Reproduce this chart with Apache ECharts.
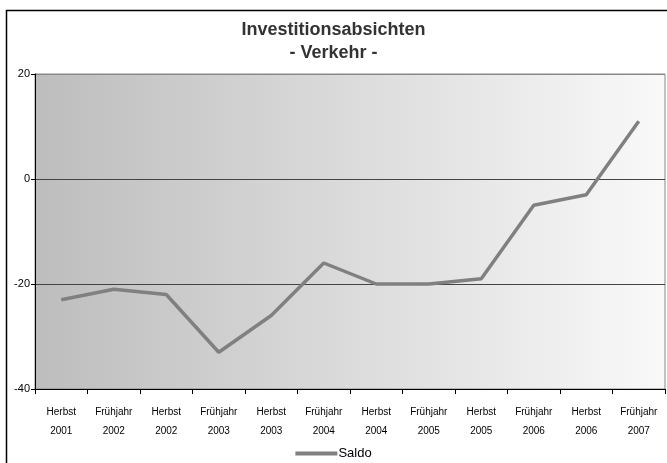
<!DOCTYPE html>
<html>
<head>
<meta charset="utf-8">
<script src="https://cdn.jsdelivr.net/npm/echarts@6/dist/echarts.min.js"></script>
<style>
  html, body { margin: 0; padding: 0; background: #fff; }
  #chart { width: 667px; height: 463px; }
</style>
</head>
<body>
<div id="chart"></div>
<script>
// Kategorien (Halbjahre)
var categories = [
  'Herbst\n2001', 'Frühjahr\n2002', 'Herbst\n2002', 'Frühjahr\n2003',
  'Herbst\n2003', 'Frühjahr\n2004', 'Herbst\n2004', 'Frühjahr\n2005',
  'Herbst\n2005', 'Frühjahr\n2006', 'Herbst\n2006', 'Frühjahr\n2007'
];
// Saldo-Werte
var saldo = [-23, -21, -22, -33, -26, -16, -20, -20, -19, -5, -3, 11];
// Achsenbereich
var yMin = -40, yMax = 20, yStep = 20;

var chart = echarts.init(document.getElementById('chart'));
chart.setOption({
  animation: false,
  title: {
    text: 'Investitionsabsichten\n- Verkehr -',
    left: 'center',
    top: 14,
    textStyle: {
      fontFamily: 'Liberation Sans',
      fontSize: 18,
      fontWeight: 'bold',
      color: '#333',
      lineHeight: 23
    }
  },
  graphic: [{
    type: 'rect',
    shape: { x: 6.5, y: 10.5, width: 670, height: 460 },
    style: { fill: null, stroke: '#000', lineWidth: 1.5 },
    silent: true,
    z: -1
  }],
  legend: {
    bottom: -2,
    left: 'center',
    data: ['Saldo'],
    itemWidth: 42,
    itemHeight: 4,
    itemGap: 4,
    icon: 'rect',
    textStyle: { fontFamily: 'Liberation Sans', fontSize: 13, color: '#000', padding: [0, 0, 0, -4] }
  },
  grid: {
    left: 35, right: 2, top: 74, bottom: 74,
    show: true,
    borderWidth: 1,
    borderColor: '#888',
    backgroundColor: new echarts.graphic.LinearGradient(0, 0, 1, 0, [
      { offset: 0, color: '#bdbdbd' },
      { offset: 1, color: '#f9f9f9' }
    ])
  },
  xAxis: {
    type: 'category',
    data: categories,
    boundaryGap: true,
    axisLine: { onZero: false, lineStyle: { color: '#000', width: 1 } },
    axisTick: { show: true, alignWithLabel: false, length: 5, lineStyle: { color: '#000' } },
    axisLabel: {
      interval: 0,
      fontFamily: 'Liberation Sans',
      fontSize: 10,
      color: '#000',
      lineHeight: 19,
      margin: 14
    },
    splitLine: { show: false }
  },
  yAxis: {
    type: 'value',
    min: yMin,
    max: yMax,
    interval: yStep,
    axisLine: { show: true, lineStyle: { color: '#000', width: 1 } },
    axisTick: { show: true, length: 4, lineStyle: { color: '#000' } },
    axisLabel: { fontFamily: 'Liberation Sans', fontSize: 11, color: '#000', margin: 5 },
    splitLine: { show: true, lineStyle: { color: ['#444', '#444', '#444', '#888'], width: 1.2 } }
  },
  series: [{
    name: 'Saldo',
    type: 'line',
    data: saldo,
    symbol: 'none',
    lineStyle: { color: '#808080', width: 3.5 },
    itemStyle: { color: '#808080' }
  }]
});
</script>
</body>
</html>
